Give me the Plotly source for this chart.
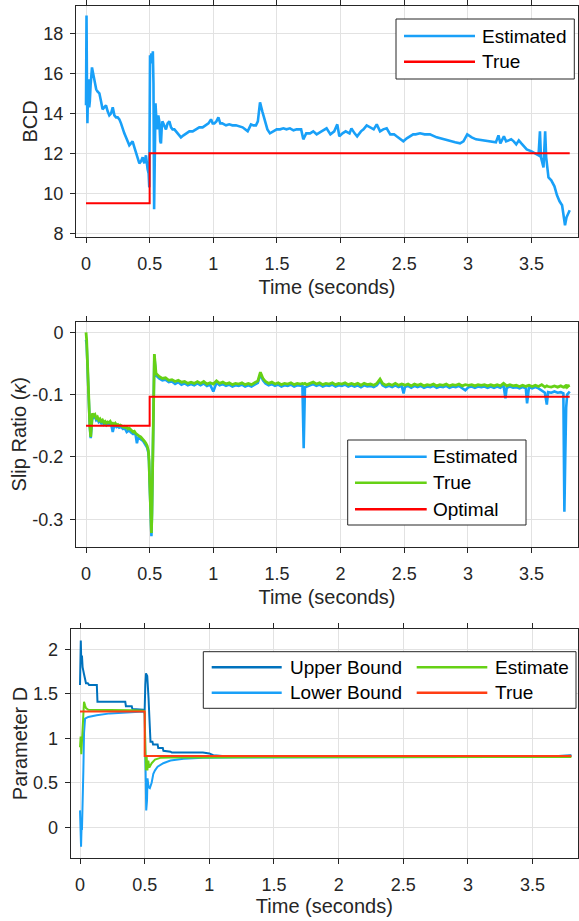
import plotly.graph_objects as go

W, H = 579, 921

# ---------------- Panel 1: BCD ----------------
bcd_t = [0.000, 0.004, 0.008, 0.011, 0.016, 0.020, 0.025, 0.030, 0.036, 0.042,
         0.047, 0.053, 0.060, 0.070, 0.080, 0.090, 0.105, 0.118, 0.130, 0.143,
         0.157, 0.170, 0.183, 0.197, 0.210, 0.223, 0.236, 0.249, 0.262, 0.275,
         0.288, 0.301, 0.314, 0.327, 0.340, 0.353, 0.366, 0.380, 0.393, 0.406,
         0.419, 0.432, 0.445, 0.458, 0.471, 0.484, 0.492, 0.497, 0.503, 0.508,
         0.514, 0.520, 0.525, 0.530, 0.535, 0.540, 0.546, 0.552, 0.560, 0.568,
         0.576, 0.583, 0.589, 0.595, 0.600, 0.614, 0.628, 0.641, 0.655, 0.668,
         0.680, 0.694, 0.707, 0.726, 0.746, 0.766, 0.786, 0.812, 0.838, 0.864,
         0.890, 0.916, 0.943, 0.962, 0.982, 0.995, 1.008, 1.024, 1.040, 1.055,
         1.070, 1.100, 1.125, 1.150, 1.178, 1.205, 1.230, 1.250, 1.270, 1.285,
         1.296, 1.315, 1.335, 1.350, 1.367, 1.385, 1.406, 1.425, 1.445, 1.470,
         1.498, 1.525, 1.550, 1.575, 1.602, 1.630, 1.655, 1.690, 1.707, 1.730,
         1.760, 1.785, 1.812, 1.850, 1.890, 1.920, 1.950, 1.974, 1.990, 2.015,
         2.040, 2.070, 2.085, 2.110, 2.130, 2.160, 2.180, 2.205, 2.240, 2.260,
         2.284, 2.310, 2.335, 2.362, 2.390, 2.420, 2.440, 2.470, 2.493, 2.520,
         2.545, 2.570, 2.590, 2.624, 2.660, 2.702, 2.755, 2.807, 2.860, 2.900,
         2.938, 2.965, 2.995, 3.030, 3.064, 3.115, 3.168, 3.200, 3.220, 3.240,
         3.255, 3.283, 3.300, 3.340, 3.360, 3.380, 3.400, 3.420, 3.462, 3.500,
         3.530, 3.555, 3.566, 3.574, 3.594, 3.607, 3.615, 3.633, 3.655, 3.680,
         3.700, 3.720, 3.740, 3.763, 3.775, 3.790, 3.800]
bcd_est = [14.4, 18.9, 15.0, 13.5, 15.2, 15.7, 14.3, 14.6, 15.4, 16.0,
           16.3, 16.1, 15.9, 15.5, 15.2, 15.1, 15.0, 14.6, 14.2, 14.3,
           14.4, 14.1, 13.9, 14.0, 14.3, 13.9, 13.8, 13.8, 13.7, 13.5,
           13.2, 13.0, 12.8, 12.6, 12.4, 12.5, 12.6, 12.3, 12.0, 11.8,
           11.5, 11.6, 11.8, 11.5, 11.9, 11.2, 11.0, 10.3, 16.9, 16.6,
           17.0, 16.5, 17.1, 15.5, 9.2, 13.0, 14.5, 13.8, 13.2, 13.9,
           13.6, 12.6, 12.5, 13.3, 13.6, 13.4, 13.2, 13.5, 13.6, 13.3,
           13.2, 13.2, 13.1, 12.9, 12.8, 12.9, 13.0, 13.1, 13.1, 13.2,
           13.3, 13.3, 13.4, 13.5, 13.7, 13.5, 13.5, 13.6, 13.8, 13.5,
           13.5, 13.4, 13.45, 13.4, 13.4, 13.35, 13.3, 13.2, 13.1, 13.3,
           13.45, 13.4, 13.4, 13.6, 14.55, 14.1, 13.6, 13.2, 13.0, 13.1,
           13.2, 13.2, 13.25, 13.2, 13.25, 13.15, 13.2, 13.2, 12.7, 13.0,
           13.0, 13.1, 12.95, 13.1, 13.25, 12.95, 13.1, 13.45, 12.85, 13.0,
           13.1, 13.0, 13.25, 13.0, 12.85, 13.1, 13.2, 13.4, 13.25, 13.2,
           13.45, 13.1, 13.2, 13.25, 12.95, 12.95, 12.85, 12.7, 12.6, 12.75,
           12.85, 12.95, 12.95, 13.0, 12.95, 12.95, 12.8, 12.7, 12.6, 12.55,
           12.5, 12.6, 12.95, 12.8, 12.7, 12.65, 12.6, 12.6, 12.55, 12.9,
           12.5, 12.85, 12.6, 12.7, 12.6, 12.45, 12.65, 12.5, 12.2, 12.1,
           12.0, 11.9, 13.1, 11.8, 11.3, 13.1, 11.8, 10.8, 10.65, 10.35,
           9.9, 9.6, 9.4, 8.4, 8.8, 9.05, 9.15]
bcd_true_t = [0.0, 0.5, 3.8]
bcd_true = [9.5, 12.0, 12.0]

# ---------------- Panel 2: Slip ratio ----------------
slip_t = [0.000, 0.005, 0.010, 0.015, 0.020, 0.025, 0.030, 0.037, 0.043, 0.050,
          0.060, 0.070, 0.080, 0.090, 0.100, 0.110, 0.120, 0.130, 0.140, 0.150,
          0.160, 0.170, 0.180, 0.190, 0.200, 0.210, 0.220, 0.230, 0.240, 0.250,
          0.260, 0.270, 0.280, 0.290, 0.300, 0.310, 0.320, 0.330, 0.340, 0.350,
          0.360, 0.370, 0.380, 0.390, 0.400, 0.410, 0.420, 0.430, 0.440, 0.450,
          0.460, 0.470, 0.480, 0.490, 0.495, 0.500, 0.505, 0.510, 0.514, 0.518,
          0.522, 0.526, 0.530, 0.534, 0.537, 0.542, 0.550, 0.575, 0.600, 0.625,
          0.650, 0.675, 0.700, 0.725, 0.750, 0.775, 0.800, 0.825, 0.850, 0.875,
          0.900, 0.925, 0.950, 0.975, 1.000, 1.025, 1.050, 1.075, 1.100, 1.125,
          1.150, 1.175, 1.200, 1.225, 1.250, 1.275, 1.300, 1.325, 1.350, 1.370,
          1.390, 1.410, 1.435, 1.460, 1.485, 1.510, 1.535, 1.560, 1.585, 1.610,
          1.635, 1.660, 1.685, 1.700, 1.710, 1.720, 1.735, 1.760, 1.785, 1.810,
          1.835, 1.860, 1.885, 1.910, 1.935, 1.960, 1.985, 2.010, 2.035, 2.060,
          2.085, 2.110, 2.135, 2.160, 2.185, 2.210, 2.235, 2.260, 2.285, 2.310,
          2.330, 2.355, 2.380, 2.405, 2.430, 2.455, 2.480, 2.495, 2.505, 2.530,
          2.555, 2.580, 2.605, 2.630, 2.655, 2.680, 2.705, 2.730, 2.755, 2.780,
          2.805, 2.830, 2.855, 2.880, 2.905, 2.930, 2.955, 2.980, 3.005, 3.030,
          3.055, 3.080, 3.105, 3.130, 3.155, 3.180, 3.205, 3.230, 3.255, 3.280,
          3.295, 3.305, 3.330, 3.355, 3.380, 3.405, 3.430, 3.455, 3.465, 3.480,
          3.505, 3.530, 3.555, 3.580, 3.605, 3.620, 3.630, 3.655, 3.680, 3.705,
          3.730, 3.750, 3.758, 3.765, 3.772, 3.780, 3.790, 3.800]
slip_true = [0.000, -0.012, -0.040, -0.070, -0.095, -0.120, -0.150, -0.168, -0.150, -0.130,
             -0.134, -0.132, -0.138, -0.136, -0.141, -0.139, -0.143, -0.141, -0.145, -0.143,
             -0.146, -0.144, -0.145, -0.143, -0.147, -0.146, -0.148, -0.146, -0.149, -0.148,
             -0.150, -0.149, -0.150, -0.152, -0.151, -0.153, -0.152, -0.155, -0.154, -0.157,
             -0.158, -0.160, -0.159, -0.162, -0.164, -0.165, -0.167, -0.168, -0.170, -0.172,
             -0.175, -0.178, -0.182, -0.190, -0.205, -0.240, -0.285, -0.315, -0.322, -0.290,
             -0.220, -0.140, -0.075, -0.042, -0.035, -0.048, -0.066, -0.071, -0.074, -0.073,
             -0.077, -0.076, -0.079, -0.077, -0.080, -0.079, -0.082, -0.080, -0.082, -0.079,
             -0.082, -0.079, -0.083, -0.081, -0.083, -0.078, -0.082, -0.080, -0.083, -0.081,
             -0.084, -0.082, -0.083, -0.081, -0.084, -0.082, -0.084, -0.081, -0.078, -0.064,
             -0.074, -0.079, -0.082, -0.080, -0.083, -0.081, -0.084, -0.082, -0.083, -0.081,
             -0.084, -0.082, -0.083, -0.082, -0.083, -0.082, -0.084, -0.082, -0.080, -0.083,
             -0.081, -0.084, -0.082, -0.083, -0.081, -0.084, -0.082, -0.083, -0.081, -0.084,
             -0.082, -0.084, -0.082, -0.085, -0.082, -0.084, -0.083, -0.085, -0.082, -0.075,
             -0.082, -0.085, -0.083, -0.085, -0.082, -0.085, -0.083, -0.084, -0.085, -0.083,
             -0.086, -0.083, -0.085, -0.083, -0.086, -0.084, -0.085, -0.083, -0.086, -0.084,
             -0.085, -0.083, -0.086, -0.084, -0.085, -0.083, -0.086, -0.084, -0.085, -0.084,
             -0.086, -0.084, -0.085, -0.084, -0.086, -0.084, -0.086, -0.084, -0.086, -0.082,
             -0.085, -0.086, -0.084, -0.086, -0.085, -0.087, -0.085, -0.087, -0.086, -0.085,
             -0.087, -0.085, -0.087, -0.084, -0.088, -0.086, -0.087, -0.088, -0.086, -0.088,
             -0.086, -0.088, -0.087, -0.089, -0.084, -0.088, -0.086, -0.085]
slip_est = [-0.012, -0.020, -0.045, -0.075, -0.098, -0.123, -0.152, -0.170, -0.152, -0.133,
            -0.137, -0.135, -0.141, -0.139, -0.144, -0.142, -0.146, -0.144, -0.148, -0.146,
            -0.149, -0.147, -0.148, -0.146, -0.150, -0.160, -0.151, -0.149, -0.152, -0.151,
            -0.153, -0.152, -0.153, -0.155, -0.154, -0.156, -0.160, -0.158, -0.157, -0.160,
            -0.161, -0.163, -0.162, -0.165, -0.178, -0.168, -0.170, -0.171, -0.173, -0.175,
            -0.178, -0.181, -0.185, -0.193, -0.208, -0.243, -0.290, -0.320, -0.327, -0.293,
            -0.223, -0.143, -0.078, -0.045, -0.037, -0.051, -0.069, -0.074, -0.077, -0.076,
            -0.080, -0.079, -0.083, -0.080, -0.084, -0.082, -0.085, -0.083, -0.085, -0.082,
            -0.085, -0.082, -0.086, -0.084, -0.095, -0.081, -0.085, -0.083, -0.086, -0.084,
            -0.087, -0.085, -0.086, -0.084, -0.087, -0.085, -0.087, -0.084, -0.081, -0.067,
            -0.077, -0.082, -0.085, -0.083, -0.086, -0.084, -0.087, -0.085, -0.086, -0.084,
            -0.087, -0.085, -0.086, -0.086, -0.186, -0.088, -0.087, -0.085, -0.083, -0.086,
            -0.084, -0.087, -0.085, -0.086, -0.084, -0.087, -0.085, -0.086, -0.084, -0.087,
            -0.085, -0.087, -0.085, -0.088, -0.085, -0.087, -0.086, -0.088, -0.085, -0.078,
            -0.085, -0.088, -0.086, -0.088, -0.085, -0.088, -0.086, -0.098, -0.088, -0.086,
            -0.089, -0.086, -0.088, -0.086, -0.089, -0.087, -0.088, -0.086, -0.089, -0.087,
            -0.088, -0.086, -0.089, -0.087, -0.088, -0.086, -0.089, -0.093, -0.088, -0.087,
            -0.089, -0.087, -0.088, -0.087, -0.089, -0.087, -0.089, -0.087, -0.089, -0.085,
            -0.106, -0.089, -0.087, -0.089, -0.088, -0.090, -0.088, -0.090, -0.114, -0.088,
            -0.090, -0.088, -0.090, -0.094, -0.097, -0.116, -0.096, -0.097, -0.095, -0.097,
            -0.096, -0.098, -0.288, -0.200, -0.121, -0.100, -0.098, -0.095]
slip_opt_t = [0.0, 0.5, 3.8]
slip_opt = [-0.150, -0.1035, -0.1035]

# ---------------- Panel 3: Parameter D ----------------
d_upper_t = [0.000, 0.003, 0.006, 0.010, 0.015, 0.020, 0.025, 0.031, 0.040, 0.046,
             0.060, 0.070, 0.130, 0.135, 0.350, 0.355, 0.400, 0.405, 0.490, 0.500,
             0.505, 0.510, 0.520, 0.525, 0.530, 0.536, 0.545, 0.560, 0.565, 0.600,
             0.605, 0.640, 0.645, 0.700, 0.710, 0.950, 1.000, 1.030, 1.100, 1.500,
             2.000, 3.000, 3.700, 3.800]
d_upper = [1.60, 1.95, 2.10, 1.85, 1.93, 1.80, 1.75, 1.72, 1.66, 1.62,
           1.62, 1.60, 1.60, 1.41, 1.41, 1.36, 1.36, 1.33, 1.32, 1.32,
           1.60, 1.73, 1.70, 1.62, 1.45, 1.25, 0.96, 0.96, 0.93, 0.93,
           0.89, 0.89, 0.86, 0.85, 0.84, 0.84, 0.83, 0.81, 0.80, 0.795,
           0.795, 0.795, 0.80, 0.81]
d_lower_t = [0.000, 0.004, 0.008, 0.012, 0.015, 0.018, 0.021, 0.026, 0.031, 0.039,
             0.064, 0.129, 0.232, 0.335, 0.490, 0.500, 0.505, 0.512, 0.518, 0.522,
             0.530, 0.540, 0.554, 0.567, 0.580, 0.600, 0.644, 0.700, 0.800, 0.950,
             1.200, 2.000, 3.000, 3.600, 3.700, 3.800]
d_lower = [0.19, -0.10, -0.22, 0.00, -0.03, 0.15, 0.27, 0.64, 1.06, 1.22,
           1.24, 1.26, 1.28, 1.29, 1.30, 1.28, 0.60, 0.19, 0.30, 0.55,
           0.45, 0.44, 0.50, 0.60, 0.64, 0.68, 0.72, 0.75, 0.77, 0.78,
           0.785, 0.79, 0.79, 0.79, 0.795, 0.80]
d_est_t = [0.000, 0.005, 0.010, 0.015, 0.021, 0.026, 0.031, 0.039, 0.046, 0.064,
           0.200, 0.400, 0.490, 0.500, 0.505, 0.510, 0.515, 0.521, 0.528, 0.536,
           0.554, 0.580, 0.620, 0.700, 1.000, 3.800]
d_est = [0.90, 1.02, 0.82, 0.95, 1.10, 1.36, 1.41, 1.37, 1.34, 1.32,
         1.32, 1.315, 1.31, 1.30, 0.91, 0.64, 0.80, 0.64, 0.75, 0.67,
         0.72, 0.76, 0.78, 0.785, 0.785, 0.79]
d_true_t = [0.0, 0.5, 3.8]
d_true = [1.3, 0.8, 0.8]

# ---------------- Ticks ----------------
x_tickvals = [0, 0.5, 1, 1.5, 2, 2.5, 3, 3.5]
x_ticktext = ["0", "0.5", "1", "1.5", "2", "2.5", "3", "3.5"]
bcd_tickvals = [8, 10, 12, 14, 16, 18]
bcd_ticktext = ["8", "10", "12", "14", "16", "18"]
slip_tickvals = [-0.3, -0.2, -0.1, 0]
slip_ticktext = ["-0.3", "-0.2", "-0.1", "0"]
d_tickvals = [0, 0.5, 1, 1.5, 2]
d_ticktext = ["0", "0.5", "1", "1.5", "2"]

BLUE = "#19A0F8"
RED = "#FF0000"
GREEN = "#66D115"
DBLUE = "#0072BD"
ORANGE = "#FF3E14"
AXC = "#262626"
FONT = "Liberation Sans, Arial, Helvetica, sans-serif"

fig = go.Figure()

def line(x, y, color, w, xa, ya, shape="linear"):
    fig.add_trace(go.Scatter(x=x, y=y, mode="lines", line=dict(color=color, width=w, shape=shape),
                             xaxis=xa, yaxis=ya, showlegend=False, hoverinfo="skip"))

line(bcd_t, bcd_est, BLUE, 2.6, "x", "y")
line(bcd_true_t, bcd_true, RED, 2, "x", "y", "hv")

line(slip_t, slip_est, BLUE, 2.6, "x2", "y2")
line(slip_t, slip_true, GREEN, 2.8, "x2", "y2")
line(slip_opt_t, slip_opt, RED, 2, "x2", "y2", "hv")

line(d_upper_t, d_upper, DBLUE, 2, "x3", "y3")
line(d_lower_t, d_lower, BLUE, 2, "x3", "y3")
line(d_est_t, d_est, GREEN, 2, "x3", "y3")
line(d_true_t, d_true, ORANGE, 2, "x3", "y3", "hv")

def px_x(p):
    return p / W

def px_y(p):
    return 1 - p / H

def axis_common():
    return dict(showline=True, linecolor=AXC, linewidth=1, mirror="ticks",
                ticks="outside", ticklen=5, tickwidth=1, tickcolor=AXC,
                showgrid=True, gridcolor="#E2E2E2", gridwidth=1, zeroline=False,
                tickfont=dict(family=FONT, size=18, color=AXC), automargin=False)

def xaxis(dom, rng, anchor, standoff):
    d = axis_common()
    d.update(domain=[px_x(dom[0]), px_x(dom[1])], range=rng, anchor=anchor,
             tickmode="array", tickvals=x_tickvals, ticktext=x_ticktext,
             ticklabelstandoff=6,
             title=dict(text="Time (seconds)", font=dict(family=FONT, size=20, color=AXC),
                        standoff=standoff))
    return d

def yaxis(dom, rng, anchor, tv, tt, title):
    d = axis_common()
    d.update(domain=[px_y(dom[1]), px_y(dom[0])], range=rng, anchor=anchor,
             tickmode="array", tickvals=tv, ticktext=tt, ticklabelstandoff=3,
             title=dict(text=title, font=dict(family=FONT, size=20, color=AXC), standoff=0))
    return d

fig.update_layout(
    width=W, height=H, margin=dict(l=0, r=0, t=0, b=0),
    paper_bgcolor="white", plot_bgcolor="white", showlegend=False,
    xaxis=xaxis((76, 578), [-0.0786, 3.865], "y", 6),
    yaxis=yaxis((6, 236.7), [7.83, 19.37], "x", bcd_tickvals, bcd_ticktext, "BCD"),
    xaxis2=xaxis((76, 578), [-0.0786, 3.865], "y2", 6),
    yaxis2=yaxis((321.7, 546.7), [-0.344, 0.017], "x2", slip_tickvals, slip_ticktext,
                 "Slip Ratio (<i>κ</i>)"),
    xaxis3=xaxis((70.7, 578), [-0.072, 3.851], "y3", 3),
    yaxis3=yaxis((629.3, 857.7), [-0.342, 2.225], "x3", d_tickvals, d_ticktext, "Parameter D"),
)

# ---------------- Legends (drawn as boxes) ----------------
shapes = []
annotations = []

def legend(box, items):
    x0, y0, x1, y1 = box
    shapes.append(dict(type="rect", xref="paper", yref="paper",
                       x0=px_x(x0), x1=px_x(x1), y0=px_y(y1), y1=px_y(y0),
                       line=dict(color=AXC, width=1), fillcolor="white", layer="above"))
    for color, label, lx0, lx1, tx, ty in items:
        shapes.append(dict(type="line", xref="paper", yref="paper",
                           x0=px_x(lx0), x1=px_x(lx1), y0=px_y(ty), y1=px_y(ty),
                           line=dict(color=color, width=2.5), layer="above"))
        annotations.append(dict(xref="paper", yref="paper", x=px_x(tx), y=px_y(ty),
                                xanchor="left", yanchor="middle", text=label, showarrow=False,
                                font=dict(family=FONT, size=19, color="black")))

legend((396, 19, 574.3, 79), [
    (BLUE, "Estimated", 404, 475, 480, 36),
    (RED, "True", 404, 475, 480, 61.7),
])
legend((347.7, 440, 526, 525), [
    (BLUE, "Estimated", 355, 426.7, 431.5, 456.7),
    (GREEN, "True", 355, 426.7, 431.5, 482.7),
    (RED, "Optimal", 355, 426.7, 431.5, 509.3),
])
legend((203.3, 651.7, 576, 708.3), [
    (DBLUE, "Upper Bound", 211.7, 281.7, 287.5, 667.3),
    (BLUE, "Lower Bound", 211.7, 281.7, 287.5, 692.7),
    (GREEN, "Estimate", 416.7, 487.3, 492.5, 667.3),
    (ORANGE, "True", 416.7, 487.3, 492.5, 692.7),
])

fig.update_layout(shapes=shapes, annotations=annotations)

fig.write_html("out.html", include_plotlyjs=True, config={"displayModeBar": False},
               post_script="document.body.style.margin='0px';document.body.style.overflow='hidden';")
